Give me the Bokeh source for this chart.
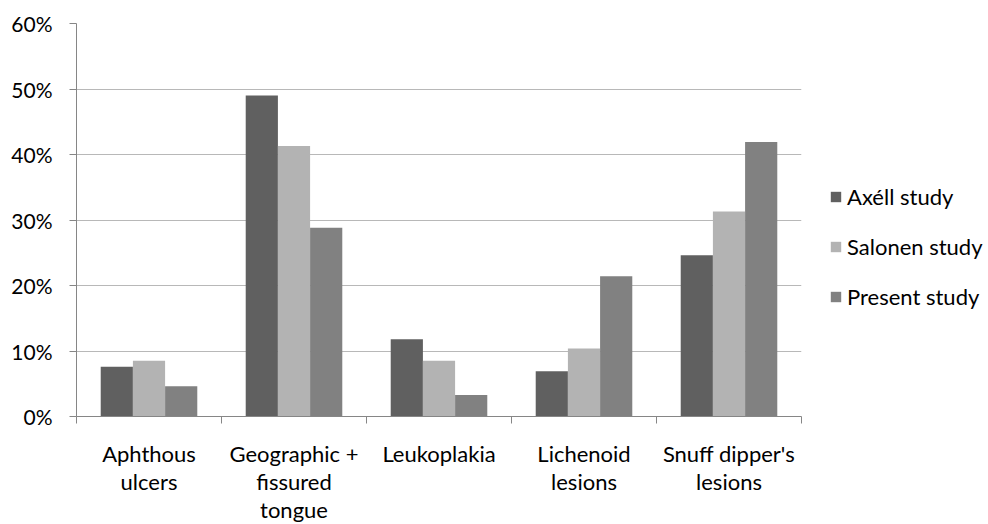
from bokeh.plotting import figure
from bokeh.models import ColumnDataSource, FixedTicker, NumeralTickFormatter, Legend, LegendItem, Range1d
from bokeh.embed import file_html
from bokeh.resources import INLINE

categories = ["Aphthous\nulcers", "Geographic +\nfissured\ntongue", "Leukoplakia",
              "Lichenoid\nlesions", "Snuff dipper's\nlesions"]
series_names = ["Axéll study", "Salonen study", "Present study"]
axell = [0.076, 0.490, 0.118, 0.069, 0.246]
salonen = [0.085, 0.413, 0.085, 0.104, 0.313]
present = [0.046, 0.288, 0.033, 0.214, 0.419]
y_ticks = [0.0, 0.1, 0.2, 0.3, 0.4, 0.5, 0.6]

colors = ["#606060", "#b3b3b3", "#818181"]
series = [axell, salonen, present]

p = figure(frame_width=725, frame_height=393, min_border_left=76, min_border_top=23,
           min_border_right=171, min_border_bottom=106,
           x_range=Range1d(0, len(categories)), y_range=Range1d(0, 0.6),
           output_backend="svg", toolbar_location=None)
p.outline_line_color = None
p.background_fill_color = "white"

bw = 0.222
renderers = []
for k, (name, vals, col) in enumerate(zip(series_names, series, colors)):
    xs = [i + 0.5 + (k - 1) * bw for i in range(len(categories))]
    src = ColumnDataSource(dict(x=xs, top=vals))
    r = p.vbar(x="x", top="top", bottom=0, width=bw, source=src,
               fill_color=col, line_color=None)
    renderers.append(r)

# x axis
centers = [i + 0.5 for i in range(len(categories))]
p.xaxis.ticker = FixedTicker(ticks=centers, minor_ticks=list(range(len(categories) + 1)))
p.xaxis.major_label_overrides = {c: lab for c, lab in zip(centers, categories)}
p.xaxis.major_tick_out = 0
p.xaxis.major_tick_in = 0
p.xaxis.minor_tick_out = 7
p.xaxis.minor_tick_in = 0
p.xaxis.minor_tick_line_color = "#868686"
p.xaxis.axis_line_color = "#868686"
p.xaxis.major_label_text_font = "Lato"
p.xaxis.major_label_text_font_size = "22px"
p.xaxis.major_label_text_color = "#000000"
p.xaxis.major_label_text_line_height = 1.04
p.xaxis.major_label_standoff = 16
p.xaxis.major_label_orientation = "horizontal"
p.xgrid.visible = False

# y axis
p.yaxis.ticker = FixedTicker(ticks=y_ticks)
p.yaxis.formatter = NumeralTickFormatter(format="0%")
p.yaxis.major_tick_out = 7
p.yaxis.major_tick_in = 0
p.yaxis.minor_tick_line_color = None
p.yaxis.major_tick_line_color = "#868686"
p.yaxis.axis_line_color = "#868686"
p.yaxis.major_label_text_font = "Lato"
p.yaxis.major_label_text_font_size = "21px"
p.yaxis.major_label_text_color = "#000000"
p.yaxis.major_label_standoff = 17
p.ygrid.ticker = FixedTicker(ticks=y_ticks)
p.ygrid.grid_line_color = "#b8b8b8"

legend = Legend(items=[LegendItem(label=n, renderers=[r]) for n, r in zip(series_names, renderers)],
                location=(28, 106))
legend.padding = 0
legend.margin = 0
legend.spacing = 23
legend.label_height = 27
legend.glyph_width = 13
legend.glyph_height = 13
legend.label_standoff = 5
legend.label_text_font = "Lato"
legend.label_text_font_size = "22px"
legend.label_text_color = "#000000"
legend.border_line_color = None
legend.background_fill_alpha = 0
p.add_layout(legend, "right")

open("out.html", "w").write(file_html(p, INLINE))
